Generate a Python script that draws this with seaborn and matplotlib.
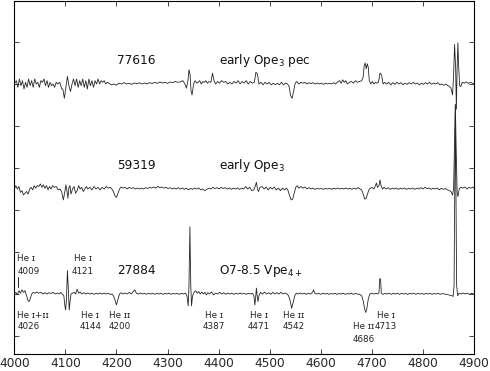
import matplotlib
matplotlib.use("Agg")
import matplotlib.pyplot as plt
import seaborn as sns
import pandas as pd

# ---------------- data (normalized flux, continuum = 1) ----------------
wl_77616 = [4000, 4004, 4007, 4010, 4013, 4016, 4019, 4022, 4025, 4028, 4031, 4034, 4037, 4040, 4043, 4046, 4049,
            4052, 4055, 4058, 4061, 4064, 4067, 4070, 4073, 4076, 4079, 4082, 4085, 4089, 4093, 4095, 4098, 4101,
            4104, 4107, 4110, 4113, 4116, 4119, 4122, 4125, 4128, 4131, 4134, 4137, 4140, 4143, 4146, 4149, 4152,
            4155, 4158, 4161, 4164, 4167, 4170, 4173, 4176, 4179, 4182, 4185, 4190, 4195, 4200, 4205, 4210, 4215,
            4220, 4225, 4230, 4235, 4240, 4245, 4250, 4255, 4260, 4265, 4270, 4275, 4280, 4285, 4290, 4295, 4300,
            4305, 4310, 4315, 4320, 4325, 4330, 4334, 4337, 4340, 4342, 4344, 4346, 4348, 4351, 4354, 4357, 4360,
            4363, 4366, 4369, 4372, 4375, 4378, 4381, 4385, 4388, 4391, 4394, 4398, 4402, 4406, 4410, 4414, 4418,
            4422, 4426, 4430, 4434, 4438, 4442, 4446, 4450, 4454, 4458, 4462, 4466, 4470, 4473, 4476, 4479, 4483,
            4487, 4491, 4495, 4499, 4503, 4507, 4511, 4515, 4519, 4523, 4527, 4531, 4535, 4538, 4541, 4544, 4547,
            4550, 4553, 4557, 4561, 4565, 4569, 4573, 4577, 4581, 4585, 4589, 4593, 4597, 4601, 4605, 4609, 4613,
            4617, 4621, 4625, 4629, 4633, 4637, 4640, 4643, 4646, 4649, 4652, 4656, 4660, 4664, 4668, 4672, 4676,
            4680, 4683, 4685, 4687, 4689, 4691, 4693, 4695, 4698, 4701, 4704, 4707, 4710, 4713, 4716, 4719, 4722,
            4725, 4729, 4733, 4737, 4741, 4745, 4749, 4753, 4757, 4761, 4765, 4769, 4773, 4777, 4781, 4785, 4789,
            4793, 4797, 4801, 4805, 4809, 4813, 4817, 4821, 4825, 4829, 4833, 4837, 4841, 4845, 4849, 4852, 4855,
            4858, 4860, 4862, 4864, 4865.5, 4867, 4868.5, 4870, 4872, 4874, 4877, 4881, 4885, 4889, 4893, 4897, 4900]
fl_77616 = [1.00, 1.02, 0.98, 1.03, 0.99, 1.02, 0.97, 1.01, 0.98, 1.03, 0.99, 1.02, 0.98, 1.03, 1.00, 1.01, 0.98,
            1.02, 1.01, 1.03, 0.99, 1.02, 0.98, 1.01, 0.99, 1.00, 0.98, 1.01, 1.00, 1.01, 0.97, 0.97, 0.915, 0.98,
            1.045, 0.99, 0.955, 1.00, 1.03, 0.99, 1.03, 0.98, 1.02, 0.99, 1.03, 0.98, 1.02, 0.97, 1.03, 0.99, 1.02,
            0.98, 1.02, 1.00, 1.03, 1.00, 1.02, 1.01, 1.02, 1.00, 1.01, 1.005, 0.995, 1.00, 0.993, 1.005, 1.00, 1.008,
            1.00, 1.004, 0.998, 1.006, 1.002, 1.007, 1.00, 1.006, 1.001, 1.008, 1.003, 1.01, 1.004, 1.012, 1.006, 1.01, 1.004,
            1.012, 1.008, 1.015, 1.01, 1.012, 1.02, 1.00, 0.975, 1.02, 1.085, 1.06, 0.96, 0.935, 1.00, 1.02, 1.005, 1.01,
            1.02, 1.00, 1.015, 1.01, 1.02, 1.005, 1.015, 1.01, 1.065, 1.02, 1.00, 1.015, 1.005, 1.02, 1.01, 1.015, 1.00,
            1.01, 1.00, 1.015, 1.005, 1.02, 1.00, 1.015, 1.005, 1.02, 1.00, 1.015, 1.005, 1.01, 1.07, 1.06, 1.00, 1.01,
            0.995, 1.01, 1.00, 1.01, 0.995, 1.005, 0.995, 1.005, 0.995, 1.01, 0.995, 1.005, 1.00, 0.985, 0.93, 0.915, 0.96,
            1.005, 1.015, 1.00, 1.01, 1.005, 1.01, 1.00, 1.008, 1.002, 1.008, 1.00, 1.006, 1.00, 1.005, 0.998, 1.005, 1.00,
            1.004, 1.00, 1.008, 1.00, 1.012, 1.02, 1.005, 1.025, 1.01, 1.02, 1.00, 1.01, 1.015, 1.005, 1.02, 1.01, 1.015,
            1.02, 1.04, 1.11, 1.125, 1.09, 1.12, 1.10, 1.02, 1.00, 1.015, 1.00, 1.01, 1.005, 1.01, 1.065, 1.055, 1.00,
            1.01, 1.00, 1.01, 0.995, 1.008, 0.998, 1.01, 1.00, 1.008, 0.995, 1.005, 0.998, 1.008, 1.00, 1.01, 1.00, 1.006,
            0.995, 1.005, 0.998, 1.008, 1.00, 1.01, 0.998, 1.006, 1.00, 1.008, 0.995, 1.00, 0.992, 1.00, 0.99, 0.985, 0.975,
            0.935, 1.05, 1.235, 1.10, 0.85, 1.10, 1.245, 1.10, 0.99, 0.985, 1.01, 1.005, 1.012, 1.003, 1.01, 1.005, 1.00]

wl_59319 = [4000, 4003, 4006, 4009, 4012, 4015, 4018, 4021, 4024, 4027, 4030, 4033, 4036, 4039, 4042, 4045, 4048,
            4051, 4054, 4057, 4060, 4063, 4066, 4069, 4072, 4075, 4078, 4082, 4086, 4090, 4093, 4096, 4099, 4101,
            4103, 4105, 4107, 4109, 4111, 4114, 4117, 4120, 4123, 4126, 4129, 4132, 4135, 4138, 4141, 4144, 4148,
            4152, 4156, 4160, 4164, 4168, 4172, 4176, 4180, 4184, 4188, 4191, 4194, 4197, 4200, 4203, 4206, 4209,
            4213, 4217, 4221, 4225, 4229, 4233, 4237, 4241, 4245, 4249, 4253, 4257, 4261, 4265, 4269, 4273, 4277,
            4281, 4285, 4289, 4293, 4297, 4301, 4305, 4309, 4313, 4317, 4321, 4325, 4329, 4333, 4337, 4341, 4345,
            4349, 4353, 4357, 4361, 4365, 4369, 4373, 4377, 4381, 4385, 4389, 4393, 4397, 4401, 4405, 4409, 4413,
            4417, 4421, 4425, 4429, 4433, 4437, 4441, 4445, 4449, 4453, 4457, 4461, 4465, 4469, 4472, 4474, 4476,
            4478, 4481, 4485, 4489, 4493, 4497, 4501, 4505, 4509, 4513, 4517, 4521, 4525, 4529, 4533, 4536, 4539,
            4542, 4545, 4548, 4551, 4554, 4557, 4561, 4565, 4569, 4573, 4577, 4581, 4585, 4589, 4593, 4597, 4601,
            4605, 4609, 4613, 4617, 4621, 4625, 4629, 4633, 4637, 4641, 4645, 4649, 4653, 4657, 4661, 4665, 4669,
            4673, 4677, 4680, 4683, 4686, 4689, 4692, 4695, 4700, 4704, 4707, 4709, 4711, 4714, 4716, 4718, 4721,
            4724, 4728, 4732, 4736, 4740, 4744, 4748, 4752, 4756, 4760, 4764, 4768, 4772, 4776, 4780, 4784, 4788,
            4792, 4796, 4800, 4804, 4808, 4812, 4816, 4820, 4824, 4828, 4832, 4836, 4840, 4844, 4848, 4852, 4855,
            4858, 4860, 4862, 4863.5, 4865, 4867, 4868.5, 4871, 4874, 4878, 4882, 4886, 4890, 4894, 4898, 4900]
fl_59319 = [1.00, 1.02, 1.00, 1.015, 0.98, 0.99, 0.965, 0.975, 0.985, 0.97, 1.00, 1.01, 0.995, 1.02, 1.005, 1.02, 1.015,
            1.03, 1.01, 1.025, 1.005, 1.02, 0.995, 1.015, 1.00, 1.02, 1.01, 1.015, 0.995, 1.00, 0.98, 0.935, 0.985, 1.025,
            0.99, 0.945, 1.01, 1.02, 0.97, 1.00, 1.015, 0.975, 0.99, 1.02, 1.00, 1.01, 0.985, 1.00, 1.015, 1.00, 1.01,
            0.995, 1.015, 1.00, 1.01, 0.995, 1.01, 1.00, 1.015, 1.005, 1.01, 1.00, 0.985, 0.96, 0.95, 0.975, 1.00, 1.012,
            1.005, 1.01, 1.00, 1.01, 1.003, 1.008, 1.00, 1.006, 1.00, 1.005, 1.00, 1.008, 1.003, 1.01, 1.006, 1.012, 1.005,
            1.015, 1.008, 1.012, 1.005, 1.01, 1.003, 1.008, 1.00, 1.006, 1.00, 1.008, 1.00, 1.006, 0.998, 1.005, 0.995, 1.004,
            0.998, 1.005, 1.00, 1.006, 0.995, 1.00, 0.99, 0.998, 1.005, 1.00, 1.01, 1.003, 1.008, 1.00, 1.01, 1.003, 1.008,
            1.00, 1.006, 0.998, 1.005, 1.00, 1.006, 0.998, 1.005, 1.00, 1.015, 1.00, 1.01, 0.99, 0.995, 1.02, 1.04, 1.00,
            0.985, 1.01, 1.015, 1.00, 1.012, 0.995, 1.01, 1.00, 1.012, 0.995, 1.005, 0.99, 1.005, 0.995, 1.005, 0.99, 0.96,
            0.935, 0.94, 0.975, 1.01, 1.02, 1.005, 1.015, 1.005, 1.012, 1.00, 1.008, 1.00, 1.005, 0.998, 1.004, 1.00, 1.003,
            0.998, 1.003, 1.00, 1.004, 0.998, 1.005, 1.00, 1.006, 1.00, 1.004, 1.00, 1.006, 1.00, 1.004, 0.998, 1.005, 1.00,
            1.008, 1.00, 0.995, 0.97, 0.94, 0.945, 0.975, 1.00, 1.01, 1.00, 1.02, 1.036, 1.01, 1.02, 1.054, 1.02, 1.00,
            1.01, 1.00, 1.008, 0.998, 1.005, 1.00, 1.006, 0.998, 1.005, 1.00, 1.006, 0.998, 1.004, 1.00, 1.006, 0.998, 1.005,
            1.00, 1.008, 1.00, 1.01, 1.002, 1.006, 0.998, 1.005, 1.00, 1.006, 0.995, 1.004, 0.998, 1.003, 0.995, 0.99, 0.985,
            0.964, 1.00, 1.30, 1.505, 1.25, 0.98, 0.955, 1.00, 1.01, 1.005, 1.012, 1.00, 1.01, 1.005, 1.012, 1.005]

wl_27884 = [4000, 4003, 4006, 4009, 4012, 4015, 4018, 4021, 4024, 4027, 4029, 4031, 4034, 4037, 4040, 4044, 4048,
            4052, 4056, 4060, 4064, 4068, 4072, 4076, 4080, 4084, 4088, 4091, 4094, 4097, 4099, 4100.5, 4102, 4104,
            4105.5, 4107.5, 4109, 4111, 4114, 4117, 4120, 4123, 4126, 4129, 4132, 4136, 4140, 4144, 4148, 4152, 4156,
            4160, 4164, 4168, 4172, 4176, 4180, 4184, 4188, 4191, 4194, 4197, 4200, 4203, 4206, 4209, 4213, 4217,
            4221, 4225, 4229, 4233, 4236, 4239, 4243, 4247, 4251, 4255, 4259, 4263, 4267, 4271, 4275, 4279, 4283,
            4287, 4291, 4295, 4299, 4303, 4307, 4311, 4315, 4319, 4323, 4327, 4331, 4335, 4338, 4340.5, 4342, 4343.8,
            4345.5, 4347, 4349, 4352, 4355, 4358, 4361, 4364, 4367, 4370, 4373, 4376, 4379, 4382, 4386, 4390, 4394,
            4398, 4402, 4406, 4410, 4414, 4418, 4422, 4426, 4430, 4434, 4438, 4442, 4446, 4450, 4454, 4458, 4462,
            4466, 4469, 4471, 4472.5, 4474, 4475.5, 4477, 4479, 4482, 4486, 4490, 4494, 4498, 4502, 4506, 4510, 4514,
            4518, 4522, 4526, 4530, 4534, 4537, 4540, 4543, 4546, 4549, 4552, 4556, 4560, 4564, 4568, 4572, 4576,
            4580, 4584, 4586, 4588, 4592, 4596, 4600, 4604, 4608, 4612, 4616, 4620, 4624, 4628, 4632, 4636, 4640,
            4644, 4648, 4652, 4656, 4660, 4664, 4668, 4672, 4676, 4680, 4683, 4686, 4688, 4690, 4693, 4696, 4700,
            4704, 4708, 4712, 4714, 4715.5, 4717, 4718.5, 4722, 4726, 4730, 4734, 4738, 4742, 4746, 4750, 4754, 4758,
            4762, 4766, 4770, 4774, 4778, 4782, 4786, 4790, 4794, 4798, 4802, 4806, 4810, 4814, 4818, 4822, 4826,
            4830, 4834, 4838, 4842, 4846, 4850, 4854, 4857, 4859, 4861, 4863.4, 4866, 4868, 4871, 4875, 4879, 4883,
            4887, 4891, 4895, 4900]
fl_27884 = [1.00, 1.01, 0.995, 1.02, 1.005, 1.025, 1.01, 1.02, 0.99, 0.96, 0.955, 0.97, 1.00, 1.01, 1.005, 1.012, 1.005,
            1.01, 1.00, 1.008, 1.00, 1.008, 1.003, 1.01, 1.00, 1.006, 1.00, 1.01, 1.00, 0.99, 0.93, 0.905, 0.96, 1.14,
            1.05, 0.905, 0.95, 1.00, 1.005, 1.01, 1.00, 1.028, 1.005, 1.012, 1.00, 1.008, 1.00, 1.006, 1.00, 1.005, 0.998,
            1.005, 1.00, 1.006, 1.00, 1.005, 1.00, 1.004, 0.998, 1.00, 0.99, 0.965, 0.935, 0.97, 1.00, 1.008, 1.00, 1.006,
            1.00, 1.01, 1.00, 1.015, 1.025, 1.005, 1.00, 1.006, 1.00, 1.005, 0.998, 1.005, 1.00, 1.005, 0.998, 1.004, 1.00,
            1.005, 0.998, 1.004, 1.00, 1.005, 0.998, 1.004, 1.00, 1.004, 0.998, 1.004, 1.00, 1.005, 0.99, 0.93, 1.05, 1.40,
            1.05, 0.93, 0.99, 1.01, 1.02, 1.005, 1.015, 1.00, 1.012, 1.00, 1.01, 0.995, 1.008, 1.00, 1.012, 0.995, 1.005,
            1.00, 1.01, 1.00, 1.008, 0.998, 1.006, 1.00, 1.005, 0.998, 1.005, 1.00, 1.006, 1.00, 1.004, 0.998, 1.005, 1.00,
            1.005, 0.99, 0.935, 0.98, 1.035, 0.99, 0.955, 0.99, 1.01, 1.00, 1.012, 1.00, 1.008, 0.998, 1.01, 1.00, 1.008,
            1.00, 1.01, 1.00, 1.006, 1.00, 0.99, 0.96, 0.915, 0.95, 0.99, 1.005, 1.00, 1.006, 1.00, 1.005, 0.998, 1.005,
            1.00, 1.01, 1.025, 1.005, 1.00, 1.004, 0.998, 1.005, 1.00, 1.004, 0.998, 1.003, 1.00, 1.004, 0.998, 1.003, 1.00,
            1.004, 0.998, 1.003, 1.00, 1.004, 0.998, 1.003, 1.00, 0.998, 0.99, 0.96, 0.91, 0.89, 0.91, 0.97, 1.00, 1.005,
            1.00, 1.004, 1.00, 1.01, 1.09, 1.09, 1.005, 0.998, 1.004, 1.00, 1.005, 0.998, 1.004, 1.00, 1.005, 0.998, 1.004,
            1.00, 1.003, 0.998, 1.004, 1.00, 1.005, 0.998, 1.004, 1.00, 1.003, 0.998, 1.004, 1.00, 1.004, 0.998, 1.003,
            1.00, 1.004, 0.998, 1.003, 1.00, 0.998, 0.995, 0.992, 0.99, 0.985, 1.05, 2.125, 1.05, 0.99, 1.005, 1.00, 1.006,
            1.00, 1.005, 0.998, 1.004, 1.00]

star_ids = ["77616", "59319", "27884"]
sp_types = ["early Ope$_3$ pec", "early Ope$_3$", "O7-8.5 Vpe$_{4+}$"]

line_names = ["He ɪ", "He ɪ+ɪɪ", "He ɪ", "He ɪ", "He ɪɪ", "He ɪ", "He ɪ", "He ɪɪ", "He ɪɪ", "He ɪ"]
line_waves = ["4009", "4026", "4121", "4144", "4200", "4387", "4471", "4542", "4686", "4713"]

# ---------------- layout / style ----------------
offsets = [1.25, 0.625, 0.0]
label_x_pos = [4006, 4006, 4134, 4149, 4206, 4391, 4479, 4547, 4684, 4728]
name_y = [1.214, 0.875, 1.214, 0.875, 0.875, 0.875, 0.875, 0.875, 0.804, 0.875]
num_y = [1.137, 0.804, 1.137, 0.804, 0.804, 0.804, 0.804, 0.804, 0.732, 0.804]
label_ha = ["left", "left", "center", "center", "center", "center", "center", "center", "center", "center"]

sns.set_style("ticks")
plt.rcParams["font.family"] = ["DejaVu Sans"]

fig = plt.figure(figsize=(4.9, 3.71), dpi=100)
ax = fig.add_axes([14.3 / 490, 17 / 371, 459.7 / 490, 353 / 371])

frames = []
for sid, wl, fl, off in zip(star_ids, [wl_77616, wl_59319, wl_27884],
                            [fl_77616, fl_59319, fl_27884], offsets):
    df = pd.DataFrame({"wavelength": wl, "flux": [f + off for f in fl], "star": sid})
    frames.append(df)
data = pd.concat(frames, ignore_index=True)

sns.lineplot(data=data, x="wavelength", y="flux", units="star", estimator=None,
             color="#262626", linewidth=0.6, sort=True, ax=ax, legend=False)

# spectrum labels
text_y = [2.372, 1.744, 1.119]
for sid, st, ty in zip(star_ids, sp_types, text_y):
    ax.text(4201, ty, sid, fontsize=8.7, ha="left", va="baseline", color="#111111")
    ax.text(4401, ty, st, fontsize=8.7, ha="left", va="baseline", color="#111111")

# line identifications
for name, wv, lx, ny, nmy, ha in zip(line_names, line_waves, label_x_pos, name_y, num_y, label_ha):
    ax.text(lx, ny, name, fontsize=6.3, ha=ha, va="center", color="#222222")
    ax.text(lx, nmy, wv, fontsize=6.3, ha=ha, va="center", color="#222222")
ax.plot([4008, 4008], [1.042, 1.101], color="#222222", linewidth=0.7)

ax.set_xlim(4000, 4900)
ax.set_ylim(0.643, 2.744)
ax.set_xticks(range(4000, 4901, 100))
ax.set_yticks([0.75, 1.0, 1.25, 1.5, 1.75, 2.0, 2.25, 2.5])
ax.set_yticklabels([])
ax.set_xlabel("")
ax.set_ylabel("")
ax.tick_params(axis="both", direction="in", length=3.5, width=0.6, top=True, right=True,
               labelsize=8.7, pad=2)
for s in ax.spines.values():
    s.set_visible(True)
    s.set_linewidth(0.8)
    s.set_color("black")

fig.savefig("out.png", dpi=100)
